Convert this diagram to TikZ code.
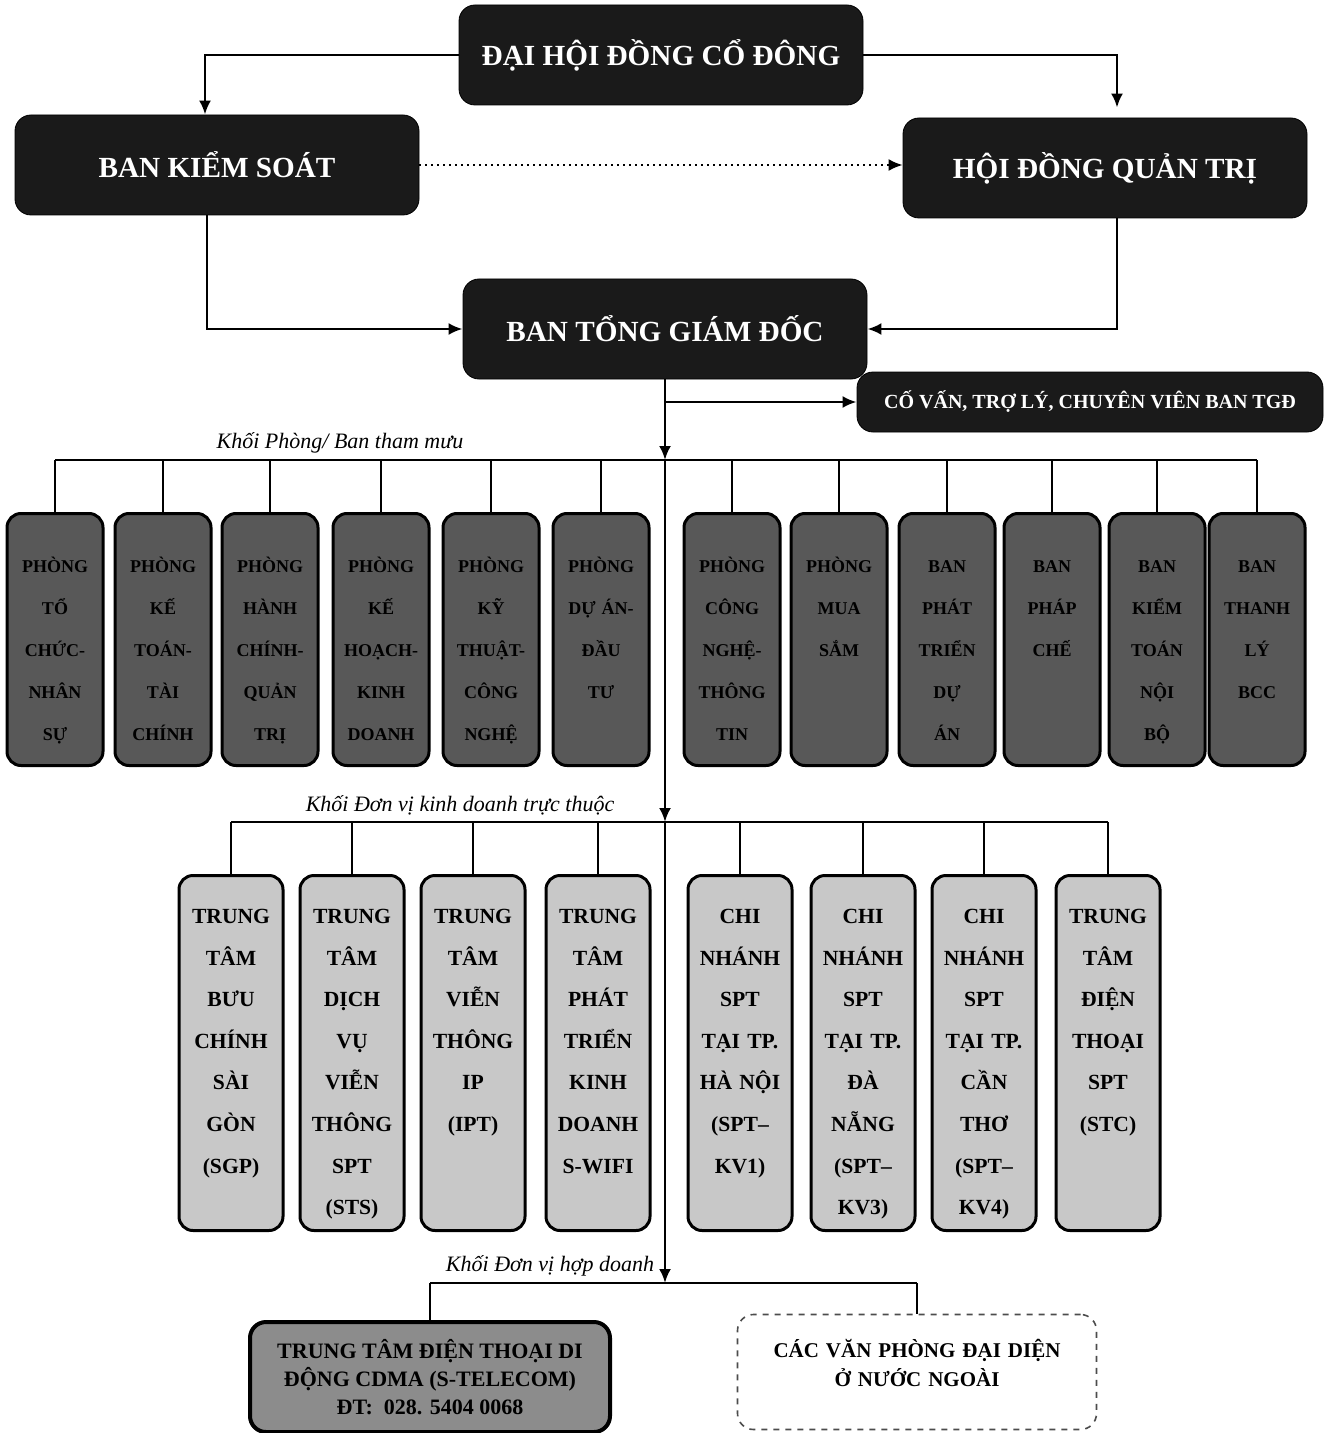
\documentclass[tikz,border=0pt]{standalone}
\usepackage{fontspec}
\setmainfont{Liberation Serif}
\usepackage{tikz}
\usetikzlibrary{arrows.meta, positioning, calc}
\definecolor{topblack}{RGB}{26, 26, 26}
\definecolor{staffgray}{RGB}{88, 88, 88}
\definecolor{unitgray}{RGB}{200, 200, 200}
\definecolor{jvgray}{RGB}{140, 140, 140}

\begin{document}
\begin{tikzpicture}[x=0.5pt, y=-0.5pt,
  link/.style={line width=1.3pt},
  arrow/.style={link, -{Latex[length=7pt, width=6pt]}},
  board/.style={draw=black, fill=topblack, rounded corners=8pt, text=white, minimum width=202pt, minimum height=50pt, font=\fontsize{14.6}{18}\selectfont\bfseries},
  staff/.style={draw=black, line width=1.5pt, fill=staffgray, rounded corners=7pt, anchor=north, inner sep=0pt, text width=48pt, align=center, text height=29.5pt, text depth=96.5pt, font=\fontsize{9}{21}\selectfont\bfseries},
  unit/.style={draw=black, line width=1.5pt, fill=unitgray, rounded corners=7pt, anchor=north, inner sep=0pt, text width=52pt, align=center, text height=24pt, text depth=153.5pt, font=\fontsize{10.8}{20.8}\selectfont\bfseries},
  group/.style={font=\fontsize{11}{13}\selectfont\itshape, anchor=south, inner sep=2pt}
]
  \useasboundingbox (0,0) rectangle (1325,1433);

  % Top level
  \node[board] (dhdcd) at (661,55) {ĐẠI HỘI ĐỒNG CỔ ĐÔNG};
  \node[board] (bks) at (217,165) {BAN KIỂM SOÁT};
  \node[board] (hdqt) at (1105,168) {HỘI ĐỒNG QUẢN TRỊ};
  \node[board] (btgd) at (665,329) {BAN TỔNG GIÁM ĐỐC};
  \node[board, minimum width=233pt, minimum height=30pt, font=\fontsize{10}{12}\selectfont\bfseries] (covan) at (1090,402) {CỐ VẤN, TRỢ LÝ, CHUYÊN VIÊN BAN TGĐ};

  \draw[arrow] (dhdcd.west) -| ([xshift=-6pt]bks.north);
  \draw[arrow, shorten >=5pt] (dhdcd.east) -| ([xshift=6pt]hdqt.north);
  \draw[-{Latex[length=7pt, width=6pt]}, dotted, line width=1pt] (bks.east) -- (bks.east -| hdqt.west);
  \draw[arrow] ([xshift=-5pt]bks.south) |- (btgd.west);
  \draw[arrow] ([xshift=6pt]hdqt.south) |- (btgd.east);

  % Main trunk
  \coordinate (fork) at (665,402);
  \coordinate (bus1) at (665,460);
  \coordinate (bus2) at (665,822);
  \coordinate (bus3) at (665,1283);
  \draw[link] (btgd.south) -- (fork);
  \draw[arrow] (fork) -- (covan.west);
  \draw[arrow] (fork) -- (bus1);
  \draw[arrow] (bus1) -- (bus2);
  \draw[arrow] (bus2) -- (bus3);

  % Staff departments
  \node[group] (lblstaff) at (340,458) {Khối Phòng/ Ban tham mưu};
  \node[staff] (s1) at (55,512) {PHÒNG\\TỔ\\CHỨC-\\NHÂN\\SỰ};
  \node[staff] (s2) at (163,512) {PHÒNG\\KẾ\\TOÁN-\\TÀI\\CHÍNH};
  \node[staff] (s3) at (270,512) {PHÒNG\\HÀNH\\CHÍNH-\\QUẢN\\TRỊ};
  \node[staff] (s4) at (381,512) {PHÒNG\\KẾ\\HOẠCH-\\KINH\\DOANH};
  \node[staff] (s5) at (491,512) {PHÒNG\\KỸ\\THUẬT-\\CÔNG\\NGHỆ};
  \node[staff] (s6) at (601,512) {PHÒNG\\DỰ ÁN-\\ĐẦU\\TƯ};
  \node[staff] (s7) at (732,512) {PHÒNG\\CÔNG\\NGHỆ-\\THÔNG\\TIN};
  \node[staff] (s8) at (839,512) {PHÒNG\\MUA\\SẮM};
  \node[staff] (s9) at (947,512) {BAN\\PHÁT\\TRIỂN\\DỰ\\ÁN};
  \node[staff] (s10) at (1052,512) {BAN\\PHÁP\\CHẾ};
  \node[staff] (s11) at (1157,512) {BAN\\KIỂM\\TOÁN\\NỘI\\BỘ};
  \node[staff] (s12) at (1257,512) {BAN\\THANH\\LÝ\\BCC};

  \draw[link] (s1.north |- bus1) -- (s12.north |- bus1);
  \foreach \n in {1,...,12}
    \draw[link] (s\n.north) -- (s\n.north |- bus1);

  % Business units
  \node[group] (lblunit) at (460,820) {Khối Đơn vị kinh doanh trực thuộc};
  \node[unit] (u1) at (231,874) {TRUNG\\TÂM\\BƯU\\CHÍNH\\SÀI\\GÒN\\(SGP)};
  \node[unit] (u2) at (352,874) {TRUNG\\TÂM\\DỊCH\\VỤ\\VIỄN\\THÔNG\\SPT\\(STS)};
  \node[unit] (u3) at (473,874) {TRUNG\\TÂM\\VIỄN\\THÔNG\\IP\\(IPT)};
  \node[unit] (u4) at (598,874) {TRUNG\\TÂM\\PHÁT\\TRIỂN\\KINH\\DOANH\\S-WIFI};
  \node[unit] (u5) at (740,874) {CHI\\NHÁNH\\SPT\\TẠI TP.\\HÀ NỘI\\(SPT–\\KV1)};
  \node[unit] (u6) at (863,874) {CHI\\NHÁNH\\SPT\\TẠI TP.\\ĐÀ\\NẴNG\\(SPT–\\KV3)};
  \node[unit] (u7) at (984,874) {CHI\\NHÁNH\\SPT\\TẠI TP.\\CẦN\\THƠ\\(SPT–\\KV4)};
  \node[unit] (u8) at (1108,874) {TRUNG\\TÂM\\ĐIỆN\\THOẠI\\SPT\\(STC)};

  \draw[link] (u1.north |- bus2) -- (u8.north |- bus2);
  \foreach \n in {1,...,8}
    \draw[link] (u\n.north) -- (u\n.north |- bus2);

  % Joint ventures
  \node[group] (lbljv) at (550,1281) {Khối Đơn vị hợp doanh};
  \node[draw=black, line width=2pt, fill=jvgray, rounded corners=8pt, minimum width=180pt, minimum height=55pt, align=center, font=\fontsize{11}{14}\selectfont\bfseries] (cdma) at (430,1377) {TRUNG TÂM ĐIỆN THOẠI DI\\ĐỘNG CDMA (S-TELECOM)\\ĐT:~ 028. 5404 0068};
  \node[draw=black!70, dashed, line width=0.8pt, rounded corners=8pt, inner sep=0pt, text width=179.5pt, align=center, text height=21.5pt, text depth=36pt, font=\fontsize{10.5}{14.5}\selectfont\bfseries] (office) at (917,1372) {CÁC VĂN PHÒNG ĐẠI DIỆN\\Ở NƯỚC NGOÀI};

  \draw[link] (cdma.north |- bus3) -- (office.north |- bus3);
  \draw[link] (cdma.north) -- (cdma.north |- bus3);
  \draw[link] (office.north) -- (office.north |- bus3);
\end{tikzpicture}
\end{document}
